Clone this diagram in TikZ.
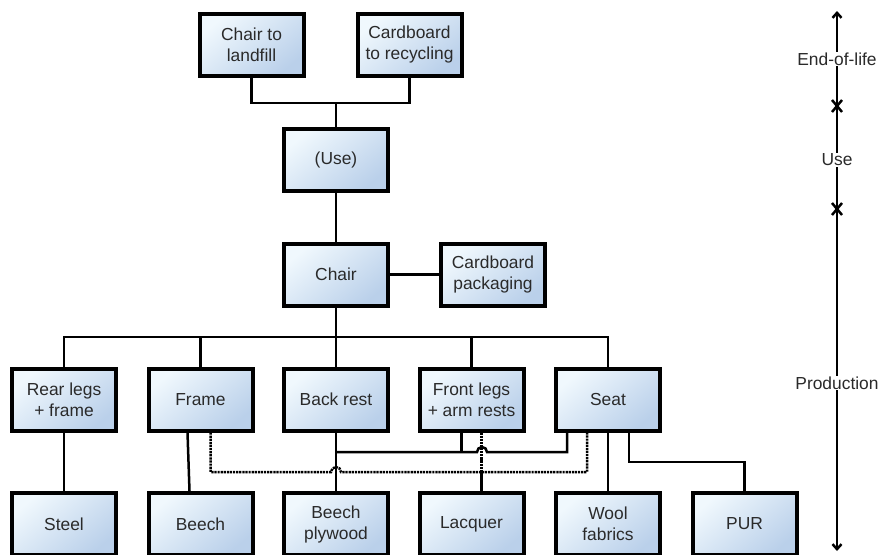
\documentclass[tikz,border=0pt]{standalone}
\usepackage{fontspec}
\setmainfont{Liberation Sans}
\usepackage{tikz}
\usetikzlibrary{positioning,arrows.meta}
\definecolor{boxlight}{HTML}{F0F8FD}
\definecolor{boxblue}{HTML}{BAD0EA}
\definecolor{txtgray}{HTML}{2A2A2A}

\begin{document}
\begin{tikzpicture}[x=1pt, y=-1pt,
  box/.style={draw=black, line width=4pt, top color=boxlight, bottom color=boxblue, shading angle=40,
    minimum width=104pt, minimum height=62pt, inner sep=0pt, align=center, text=txtgray,
    font=\fontsize{17.4}{21}\selectfont},
  wire/.style={line width=2.5pt},
  lacqwire/.style={line width=2.5pt, dash pattern=on 2.2pt off 0.9pt},
  phase/.style={fill=white, text=txtgray, inner sep=1pt, font=\fontsize{17.4}{21}\selectfont}]

\useasboundingbox (0,0) rectangle (882,554);

\node[box] (land) at (251.5,45) {Chair to\\landfill};
\node[box] (recyc) at (409.5,45) {Cardboard\\to recycling};
\node[box] (use) at (336,159.5) {(Use)};
\node[box] (chair) at (336,274.5) {Chair};
\node[box] (pack) at (493,274.5) {Cardboard\\packaging};

\node[box] (rear) at (64,399.5) {Rear legs\\+ frame};
\node[box] (frame) at (200.5,399.5) {Frame};
\node[box] (back) at (336,399.5) {Back rest};
\node[box] (front) at (471.5,399.5) {Front legs\\+ arm rests};
\node[box] (seat) at (608,399.5) {Seat};

\node[box] (steel) at (64,524) {Steel};
\node[box] (beech) at (200.5,524) {Beech};
\node[box] (ply) at (336,524) {Beech\\plywood};
\node[box] (lacq) at (471.5,524) {Lacquer};
\node[box] (wool) at (608,524) {Wool\\fabrics};
\node[box] (pur) at (744.5,524) {PUR};

\coordinate (topbus) at (336,103);
\coordinate (bus) at (336,337);
\coordinate (solidbus) at (336,452);
\coordinate (dashbus) at (200,472);
\coordinate (purbend) at (744.5,462);

\draw[wire] (land.south) |- (topbus) -| (recyc.south);
\draw[wire] (topbus) -- (use.north);
\draw[wire] (use.south) -- (chair.north);
\draw[wire] (chair.east) -- (pack.west);

\draw[wire] (rear.north) |- (bus) -| (seat.north);
\draw[wire] (frame.north) -- (frame.north |- bus);
\draw[wire] (front.north) -- (front.north |- bus);
\draw[wire] (chair.south) -- (back.north);

\draw[wire] (rear.south) -- (steel.north);
\draw[wire] ([xshift=-13pt]frame.south) -- ([xshift=-11pt]beech.north);
\draw[wire] (back.south) -- (ply.north);
\draw[wire] (solidbus) -- ++(141,0) arc[start angle=180, end angle=0, radius=5pt]
  -- ([xshift=-41pt]seat.south |- solidbus) -- ([xshift=-41pt]seat.south);
\draw[wire] ([xshift=-10pt]front.south) -- ([xshift=-10pt]front.south |- solidbus);

\draw[lacqwire] ([xshift=10pt]frame.south) -- ([xshift=10pt]frame.south |- dashbus) -- (331,472)
  arc[start angle=180, end angle=0, radius=5pt]
  -| ([xshift=-21pt]seat.south);
\draw[lacqwire] ([xshift=10pt]front.south) -- ([xshift=10pt]front.south |- dashbus);
\draw[wire] ([xshift=10pt]front.south |- dashbus) -- ([xshift=10pt]lacq.north);

\draw[wire] (seat.south) -- (wool.north);
\draw[wire] ([xshift=21pt]seat.south) |- (purbend) -- (pur.north);

\coordinate (axtop) at (837,11);
\coordinate (axbot) at (837,551);
\draw[wire, {Straight Barb[length=5pt,width=9pt]}-{Straight Barb[length=5pt,width=9pt]}] (axbot) -- (axtop);
\node[phase] (eol) at (837,59) {End-of-life};
\node[phase] (usephase) at (837,160) {Use};
\node[phase] (prod) at (837,383) {Production};
\draw[wire] (832,100) -- (842,112) (842,100) -- (832,112);
\draw[wire] (832,203) -- (842,215) (842,203) -- (832,215);
\end{tikzpicture}
\end{document}
